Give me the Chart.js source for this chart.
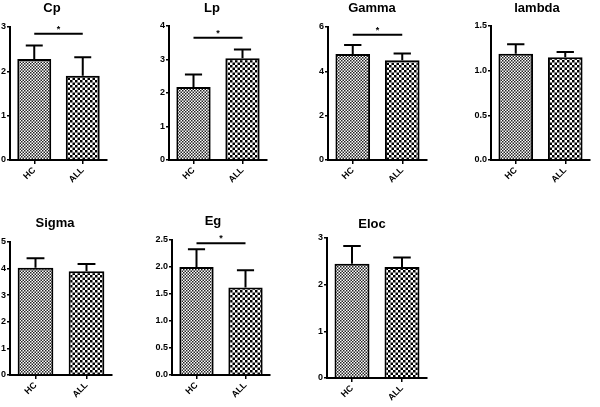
<!DOCTYPE html>
<html>
<head>
<meta charset="utf-8">
<script src="https://cdn.jsdelivr.net/npm/chart.js@4"></script>
<style>
  body { margin: 0; background: #fff; }
  #wrap { position: relative; width: 600px; height: 407px; overflow: hidden; }
  #wrap canvas { position: absolute; }
</style>
</head>
<body>
<div id="wrap"></div>
<script>
// data (mean and upper error per panel)
const categories = ['HC', 'ALL'];
const panelTitles = ['Cp', 'Lp', 'Gamma', 'lambda', 'Sigma', 'Eg', 'Eloc'];
const meanHC  = [2.28, 2.18, 4.78, 1.19, 4.03, 2.00, 2.45];
const meanALL = [1.90, 3.04, 4.50, 1.15, 3.90, 1.62, 2.38];
const errHC   = [0.30, 0.37, 0.41, 0.105, 0.36, 0.33, 0.38];
const errALL  = [0.42, 0.26, 0.31, 0.06, 0.27, 0.32, 0.20];
const yMax    = [3, 4, 6, 1.5, 5, 2.5, 3];
const yStep   = [1, 1, 2, 0.5, 1, 0.5, 1];
const sigY    = [2.85, 3.65, 5.65, null, null, 2.44, null];
const sigMark = '*';

// where each small panel sits on the page
const layout = [
    { left: 0,   top: 0,   h: 200, axisX: 10,  axisEnd: 107, plotTop: 27,  plotBottom: 160, titleX: 52,  titleY: 8 },
    { left: 155, top: 0,   h: 200, axisX: 169, axisEnd: 267, plotTop: 26,  plotBottom: 160, titleX: 212, titleY: 8 },
    { left: 314, top: 0,   h: 200, axisX: 328, axisEnd: 427, plotTop: 27,  plotBottom: 160, titleX: 372, titleY: 8 },
    { left: 472, top: 0,   h: 200, axisX: 491, axisEnd: 590, plotTop: 26,  plotBottom: 160, titleX: 537, titleY: 8 },
    { left: 0,   top: 200, h: 207, axisX: 10,  axisEnd: 112, plotTop: 242, plotBottom: 375, titleX: 55,  titleY: 223 },
    { left: 150, top: 200, h: 207, axisX: 172, axisEnd: 270, plotTop: 240, plotBottom: 375, titleX: 213, titleY: 221 },
    { left: 313, top: 200, h: 207, axisX: 327, axisEnd: 427, plotTop: 238, plotBottom: 378, titleX: 372, titleY: 224 }
];

const FONT = '"Liberation Sans", Arial, sans-serif';
Chart.defaults.font.family = FONT;
Chart.defaults.color = '#000';

/**
 * Checkerboard fill; a fractional cell size gives the soft grey look of the original.
 */
function makeChecker(ctx, cell, dark, light) {
    const tile = document.createElement('canvas');
    const size = Math.ceil(cell * 2);
    tile.width = size;
    tile.height = size;
    const t = tile.getContext('2d');
    t.fillStyle = light;
    t.fillRect(0, 0, size, size);
    t.fillStyle = dark;
    t.fillRect(0, 0, cell, cell);
    t.fillRect(cell, cell, cell, cell);
    return ctx.createPattern(tile, 'repeat');
}

// upper error bars + significance line, drawn through the y scale
const extrasPlugin = {
    id: 'extras',
    afterDatasetsDraw(chart, args, opts) {
        const ctx = chart.ctx;
        const y = chart.scales.y;
        const meta = chart.getDatasetMeta(0);
        ctx.save();
        ctx.strokeStyle = '#000';
        ctx.lineWidth = 2;
        meta.data.forEach((bar, i) => {
            const top = y.getPixelForValue(opts.means[i] + opts.errs[i]);
            const half = bar.width / 4;
            ctx.beginPath();
            ctx.moveTo(bar.x, bar.y);
            ctx.lineTo(bar.x, top);
            ctx.moveTo(bar.x - half, top);
            ctx.lineTo(bar.x + half, top);
            ctx.stroke();
        });
        if (opts.sig != null) {
            const sy = y.getPixelForValue(opts.sig);
            const x1 = meta.data[0].x, x2 = meta.data[1].x;
            ctx.beginPath();
            ctx.moveTo(x1, sy);
            ctx.lineTo(x2, sy);
            ctx.stroke();
            ctx.fillStyle = '#000';
            ctx.font = 'bold 9px ' + FONT;
            ctx.textAlign = 'center';
            ctx.textBaseline = 'alphabetic';
            ctx.fillText(sigMark, (x1 + x2) / 2, sy - 2);
        }
        ctx.restore();
    },
    afterDraw(chart, args, opts) {
        const ctx = chart.ctx;
        ctx.save();
        ctx.fillStyle = '#000';
        ctx.font = 'bold 13px ' + FONT;
        ctx.textAlign = 'center';
        ctx.textBaseline = 'middle';
        ctx.fillText(opts.title, opts.titleX, opts.titleY);
        ctx.restore();
    }
};

const wrap = document.getElementById('wrap');

panelTitles.forEach((title, p) => {
    const L = layout[p];
    const w = L.axisEnd - L.left + 4;
    const canvas = document.createElement('canvas');
    canvas.width = w;
    canvas.height = L.h;
    canvas.style.left = L.left + 'px';
    canvas.style.top = L.top + 'px';
    wrap.appendChild(canvas);
    const ctx = canvas.getContext('2d');

    const yWidth = L.axisX - L.left;
    const xHeight = L.top + L.h - L.plotBottom;
    const decimals = yStep[p] < 1 ? 1 : 0;

    new Chart(ctx, {
        type: 'bar',
        data: {
            labels: categories,
            datasets: [{
                data: [meanHC[p], meanALL[p]],
                backgroundColor: [makeChecker(ctx, 1.5, '#222', '#fff'), makeChecker(ctx, 2.5, '#000', '#fff')],
                borderColor: '#000',
                borderWidth: 2,
                borderSkipped: 'bottom',
                barPercentage: 0.7,
                categoryPercentage: 1.0
            }]
        },
        plugins: [extrasPlugin],
        options: {
            responsive: false,
            devicePixelRatio: 1,
            animation: false,
            layout: { padding: { top: L.plotTop - L.top, right: 4, left: 0, bottom: 0 } },
            plugins: {
                legend: { display: false },
                tooltip: { enabled: false },
                extras: {
                    means: [meanHC[p], meanALL[p]],
                    errs: [errHC[p], errALL[p]],
                    sig: sigY[p],
                    title: title,
                    titleX: L.titleX - L.left,
                    titleY: L.titleY - L.top
                }
            },
            scales: {
                x: {
                    afterFit: s => { s.height = xHeight; },
                    border: { display: true, color: '#000', width: 2 },
                    grid: { display: true, drawOnChartArea: false, drawTicks: true, tickLength: 4, offset: false, color: '#000', lineWidth: 1.5 },
                    ticks: { minRotation: 45, maxRotation: 45, padding: 1, font: { size: 9, weight: 'bold' } }
                },
                y: {
                    min: 0,
                    max: yMax[p],
                    afterFit: s => { s.width = yWidth; },
                    border: { display: true, color: '#000', width: 2 },
                    grid: { display: true, drawOnChartArea: false, drawTicks: true, tickLength: 3, color: '#000', lineWidth: 1.5 },
                    ticks: {
                        stepSize: yStep[p],
                        padding: 1,
                        font: { size: 9, weight: 'bold' },
                        callback: v => v.toFixed(decimals)
                    }
                }
            }
        }
    });
});
</script>
</body>
</html>
